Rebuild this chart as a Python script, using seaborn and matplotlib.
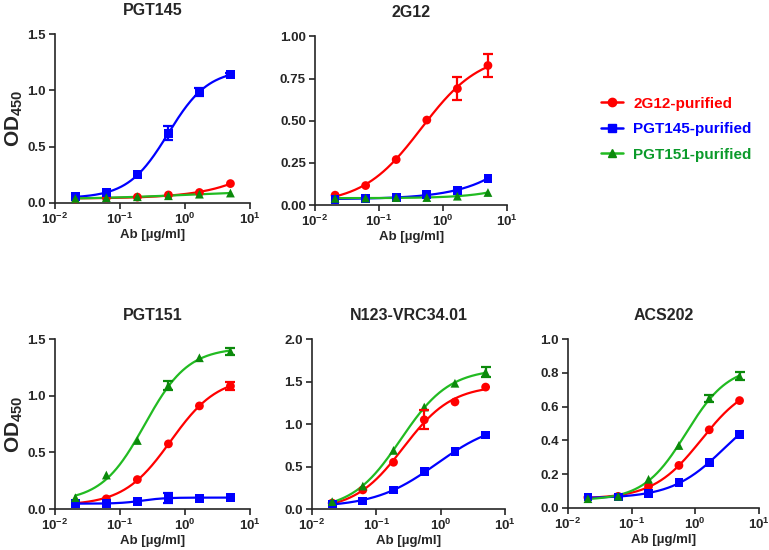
import numpy as np
import pandas as pd
import seaborn as sns
import matplotlib
matplotlib.use("Agg")
import matplotlib.pyplot as plt
from matplotlib.lines import Line2D

# antibody concentration (3-fold dilution), ug/ml
conc = [0.0206, 0.0617, 0.185, 0.556, 1.667, 5.0]

series_names = ["2G12-purified", "PGT145-purified", "PGT151-purified"]
panel_titles = ["PGT145", "2G12", "PGT151", "N123-VRC34.01", "ACS202"]

# OD450 values, per panel and purified trimer
pgt145_2g12 = [0.036, 0.045, 0.052, 0.071, 0.093, 0.172]
pgt145_pgt145 = [0.056, 0.090, 0.250, 0.620, 0.985, 1.140]
pgt145_pgt151 = [0.040, 0.047, 0.055, 0.064, 0.078, 0.088]
pgt145_pgt145_err = [0, 0, 0, 0.06, 0.035, 0.015]

g2g12_2g12 = [0.059, 0.116, 0.270, 0.504, 0.690, 0.827]
g2g12_pgt145 = [0.035, 0.041, 0.045, 0.063, 0.087, 0.160]
g2g12_pgt151 = [0.040, 0.042, 0.045, 0.045, 0.053, 0.075]
g2g12_2g12_err = [0, 0, 0, 0, 0.067, 0.07]

pgt151_2g12 = [0.056, 0.090, 0.260, 0.575, 0.910, 1.085]
pgt151_pgt145 = [0.050, 0.047, 0.068, 0.100, 0.093, 0.105]
pgt151_pgt151 = [0.100, 0.300, 0.605, 1.090, 1.335, 1.390]
pgt151_2g12_err = [0, 0, 0, 0, 0, 0.035]
pgt151_pgt145_err = [0, 0, 0, 0.045, 0, 0]
pgt151_pgt151_err = [0, 0, 0, 0.04, 0, 0.03]

n123_2g12 = [0.070, 0.225, 0.550, 1.050, 1.260, 1.435]
n123_pgt145 = [0.060, 0.095, 0.225, 0.440, 0.675, 0.870]
n123_pgt151 = [0.087, 0.270, 0.690, 1.200, 1.480, 1.610]
n123_2g12_err = [0, 0, 0, 0.11, 0, 0]
n123_pgt151_err = [0, 0, 0, 0, 0, 0.06]

acs202_2g12 = [0.063, 0.069, 0.128, 0.252, 0.463, 0.636]
acs202_pgt145 = [0.065, 0.065, 0.085, 0.150, 0.270, 0.437]
acs202_pgt151 = [0.055, 0.069, 0.170, 0.370, 0.650, 0.780]
acs202_pgt151_err = [0, 0, 0, 0, 0.02, 0.025]

zeros = [0] * 6
panels = [
    [(pgt145_2g12, zeros), (pgt145_pgt145, pgt145_pgt145_err), (pgt145_pgt151, zeros)],
    [(g2g12_2g12, g2g12_2g12_err), (g2g12_pgt145, zeros), (g2g12_pgt151, zeros)],
    [(pgt151_2g12, pgt151_2g12_err), (pgt151_pgt145, pgt151_pgt145_err), (pgt151_pgt151, pgt151_pgt151_err)],
    [(n123_2g12, n123_2g12_err), (n123_pgt145, zeros), (n123_pgt151, n123_pgt151_err)],
    [(acs202_2g12, zeros), (acs202_pgt145, zeros), (acs202_pgt151, acs202_pgt151_err)],
]
y_ticks = [
    [0, 0.5, 1.0, 1.5],
    [0, 0.25, 0.5, 0.75, 1.0],
    [0, 0.5, 1.0, 1.5],
    [0, 0.5, 1.0, 1.5, 2.0],
    [0, 0.2, 0.4, 0.6, 0.8, 1.0],
]
y_fmt = ["%.1f", "%.2f", "%.1f", "%.1f", "%.1f"]

line_colors = ["#ff0000", "#0000ff", "#22bb22"]
marker_colors = ["#ff0000", "#0000ff", "#0b8a0b"]
text_colors = ["#ff0000", "#0000ff", "#0a9a2a"]
markers = ["o", "s", "^"]

# axes rects in figure fraction
rects = [
    [0.0715, 0.631, 0.2536, 0.307],
    [0.4096, 0.627, 0.2500, 0.307],
    [0.0715, 0.0745, 0.2536, 0.309],
    [0.4057, 0.0745, 0.2510, 0.309],
    [0.7386, 0.0764, 0.2480, 0.307],
]


def fit_4pl(x, y):
    # 4-parameter logistic fit on log10(x); bottom/top solved linearly on a grid of ec50/hill
    lx = np.log10(x)
    best = None
    for c in np.linspace(-2.5, 2.5, 126):
        for h in np.linspace(0.4, 2.5, 43):
            s = 1 / (1 + 10 ** ((c - lx) * h))
            A = np.column_stack([1 - s, s])
            coef = np.linalg.lstsq(A, y, rcond=None)[0]
            sse = ((A @ coef - y) ** 2).sum()
            if best is None or sse < best[0]:
                best = (sse, c, h, coef)
    _, c, h, (b, t) = best
    return lambda xx: b + (t - b) / (1 + 10 ** ((c - np.log10(xx)) * h))


sns.set_style("ticks")
plt.rcParams["font.family"] = ["Liberation Sans", "DejaVu Sans"]
plt.rcParams["font.weight"] = "bold"
plt.rcParams["axes.titleweight"] = "bold"
plt.rcParams["axes.labelweight"] = "bold"
plt.rcParams["mathtext.fontset"] = "custom"
plt.rcParams["mathtext.rm"] = "Liberation Sans:bold"
plt.rcParams["mathtext.bf"] = "Liberation Sans:bold"
plt.rcParams["mathtext.default"] = "bf"

fig = plt.figure(figsize=(7.69, 5.5), dpi=100)

xs = np.logspace(np.log10(conc[0]), np.log10(conc[-1]), 200)
for i, title in enumerate(panel_titles):
    ax = fig.add_axes(rects[i])
    for j, (vals, err) in enumerate(panels[i]):
        y = np.array(vals)
        f = fit_4pl(np.array(conc), y)
        curve = pd.DataFrame({"x": xs, "y": f(xs)})
        sns.lineplot(data=curve, x="x", y="y", ax=ax, color=line_colors[j], lw=1.6,
                     estimator=None, sort=False, clip_on=False)
        pts = pd.DataFrame({"x": conc, "y": y})
        sns.scatterplot(data=pts, x="x", y="y", ax=ax, marker=markers[j], s=40,
                        color=marker_colors[j], edgecolor="none", clip_on=False, zorder=4)
        e = np.array(err)
        m = e > 0
        if m.any():
            ax.errorbar(np.array(conc)[m], y[m], yerr=e[m], fmt="none", ecolor=marker_colors[j],
                        elinewidth=1.6, capsize=3.5, capthick=1.6, zorder=5, clip_on=False)
    ax.set_xscale("log")
    ax.set_xlim(0.01, 10)
    ax.set_xticks([0.01, 0.1, 1, 10])
    ax.set_xticklabels([r"$10^{-2}$", r"$10^{-1}$", r"$10^{0}$", r"$10^{1}$"])
    ax.minorticks_off()
    ax.set_ylim(0, y_ticks[i][-1])
    ax.set_yticks(y_ticks[i])
    ax.set_yticklabels([y_fmt[i] % v for v in y_ticks[i]])
    ax.tick_params(labelsize=9.5, width=1.2, length=4, direction="out", pad=2.5)
    for sp in ["left", "bottom"]:
        ax.spines[sp].set_linewidth(1.2)
    sns.despine(ax=ax)
    ax.set_title(title, fontsize=11.5, pad=14)
    ax.set_xlabel("Ab [µg/ml]", fontsize=9.5, labelpad=1)
    if i in (0, 2):
        ax.set_ylabel("OD$_{450}$", fontsize=15, labelpad=2)
    else:
        ax.set_ylabel("")

handles = [Line2D([], [], color=line_colors[j], lw=1.8, marker=markers[j], markersize=6,
                  markerfacecolor=marker_colors[j], markeredgecolor=marker_colors[j])
           for j in range(3)]
fig.legend(handles, series_names, loc="upper left", bbox_to_anchor=(0.772, 0.838),
           frameon=False, fontsize=11, handlelength=1.4, handletextpad=0.7,
           labelspacing=0.75, borderpad=0, labelcolor=text_colors)

fig.savefig("out.png", dpi=100)
